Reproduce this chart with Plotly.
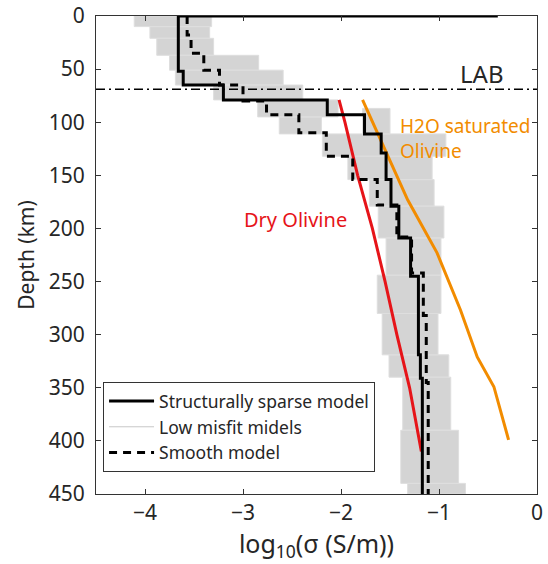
import plotly.graph_objects as go

# ---------------- data ----------------
# Structurally sparse model: layer boundaries (km) and log10 conductivity per layer
sparse_bounds = [0, 0, 52, 65, 79, 93, 111, 129, 154, 179, 209, 245, 319, 341, 450]
sparse_values = [-0.4, -3.66, -3.61, -3.20, -2.14, -1.76, -1.59, -1.54, -1.49, -1.41,
                 -1.29, -1.21, -1.19, -1.17]

# Smooth model
smooth_bounds = [0, 18, 35, 51, 65, 80, 93, 110, 132, 154, 178, 208, 242, 282, 345, 450]
smooth_values = [-3.57, -3.53, -3.40, -3.24, -3.00, -2.76, -2.43, -2.15, -1.88, -1.63,
                 -1.43, -1.28, -1.16, -1.13, -1.11]

# Low misfit models: spread per depth interval (top, bottom, min, max)
band_top    = [0, 10, 21, 37, 51, 65, 79, 87, 95, 111, 132, 154, 179, 209, 244, 280, 319, 340, 390, 440]
band_bottom = [10, 21, 37, 51, 65, 79, 95, 111, 111, 132, 154, 179, 209, 244, 280, 319, 340, 390, 440, 450]
band_min    = [-4.11, -3.95, -3.88, -3.75, -3.69, -3.30, -2.85, -1.78, -2.63, -2.19, -1.93, -1.71,
               -1.62, -1.54, -1.63, -1.58, -1.51, -1.37, -1.39, -1.32]
band_max    = [-3.32, -3.34, -3.30, -2.84, -2.59, -2.39, -2.03, -1.50, -2.20, -0.93, -1.07, -1.05,
               -0.95, -0.98, -0.98, -1.01, -0.90, -0.88, -0.80, -0.73]

# Laboratory conductivity of olivine
dry_depth = [79, 100, 150, 200, 250, 300, 350, 410]
dry_sigma = [-2.02, -1.96, -1.83, -1.68, -1.55, -1.43, -1.30, -1.18]
wet_depth = [79, 173, 223, 277, 321, 349, 399]
wet_sigma = [-1.78, -1.32, -1.02, -0.78, -0.61, -0.44, -0.29]

lab_depth = 69

x_ticks = [-4, -3, -2, -1, 0]
x_ticktext = ["\u22124", "\u22123", "\u22122", "\u22121", "0"]
y_ticks = [0, 50, 100, 150, 200, 250, 300, 350, 400, 450]

FONT = "Noto Sans"
TXT = "#262626"


def steps(bounds, values):
    xs, ys = [], []
    for i, v in enumerate(values):
        xs += [v, v]
        ys += [bounds[i], bounds[i + 1]]
    return xs, ys


bx, by = [], []
for t, b, lo, hi in zip(band_top, band_bottom, band_min, band_max):
    bx += [lo, hi, hi, lo, lo, None]
    by += [t, t, b, b, t, None]

fig = go.Figure()

fig.add_trace(go.Scatter(x=bx, y=by, mode="lines", fill="toself",
                         fillcolor="rgb(212,212,212)",
                         line=dict(color="rgb(222,222,222)", width=1),
                         showlegend=False, hoverinfo="skip"))

fig.add_trace(go.Scatter(x=dry_sigma, y=dry_depth, mode="lines",
                         line=dict(color="rgb(230,20,25)", width=3), showlegend=False))
fig.add_trace(go.Scatter(x=wet_sigma, y=wet_depth, mode="lines",
                         line=dict(color="rgb(242,140,0)", width=3), showlegend=False))

sx, sy = steps(smooth_bounds, smooth_values)
fig.add_trace(go.Scatter(x=sx, y=sy, mode="lines", name="Smooth model", legendrank=3,
                         line=dict(color="black", width=3, dash="8px,6px")))

px, py = steps(sparse_bounds, sparse_values)
fig.add_trace(go.Scatter(x=px, y=py, mode="lines", name="Structurally sparse model",
                         legendrank=1, line=dict(color="black", width=3)))

fig.add_trace(go.Scatter(x=[None], y=[None], mode="lines", name="Low misfit midels",
                         legendrank=2, line=dict(color="rgb(200,200,200)", width=1)))

# LAB line
fig.add_shape(type="line", xref="paper", x0=0, x1=1, yref="y", y0=lab_depth, y1=lab_depth,
              line=dict(color="black", width=1.5, dash="9px,4px,2px,4px"))

fig.add_annotation(x=-0.56, y=54, text="LAB", showarrow=False,
                   font=dict(family=FONT, size=24, color=TXT))
fig.add_annotation(x=-1.42, y=115, text="H2O saturated<br>Olivine", showarrow=False,
                   xanchor="left", align="left",
                   font=dict(family=FONT, size=19, color="rgb(242,140,0)"))
fig.add_annotation(x=-2.46, y=192, text="Dry Olivine", showarrow=False,
                   font=dict(family=FONT, size=20, color="rgb(230,20,25)"))

axis_common = dict(showline=True, linecolor="#333333", linewidth=1, mirror="ticks",
                   ticks="inside", ticklen=5, tickcolor="#333333", showgrid=False,
                   zeroline=False, automargin=False, ticklabeloverflow="allow",
                   tickfont=dict(family=FONT, size=21, color=TXT))

fig.update_xaxes(range=[-4.5, 0], tickvals=x_ticks, ticktext=x_ticktext,
                 title=dict(text="log<sub>10</sub>(\u03c3 (S/m))",
                            font=dict(family=FONT, size=25, color=TXT), standoff=0),
                 **axis_common)
fig.update_yaxes(range=[450, 0], tickvals=y_ticks, ticklabelstandoff=6,
                 title=dict(text="Depth (km)", font=dict(family=FONT, size=21, color=TXT), standoff=8),
                 **axis_common)

fig.update_layout(width=548, height=564, margin=dict(l=96, r=11, t=16, b=70),
                  plot_bgcolor="white", paper_bgcolor="white",
                  font=dict(family=FONT, color=TXT),
                  legend=dict(x=0.016, y=0.234, xanchor="left", yanchor="top",
                              bgcolor="white", bordercolor="#333333", borderwidth=1,
                              font=dict(family=FONT, size=17.5, color=TXT),
                              itemwidth=45, tracegroupgap=0))

# remove the default page margin so the figure fills the window exactly
fig.write_html("out.html", config={"displayModeBar": False},
               post_script="document.body.style.margin='0';document.body.style.overflow='hidden';")
